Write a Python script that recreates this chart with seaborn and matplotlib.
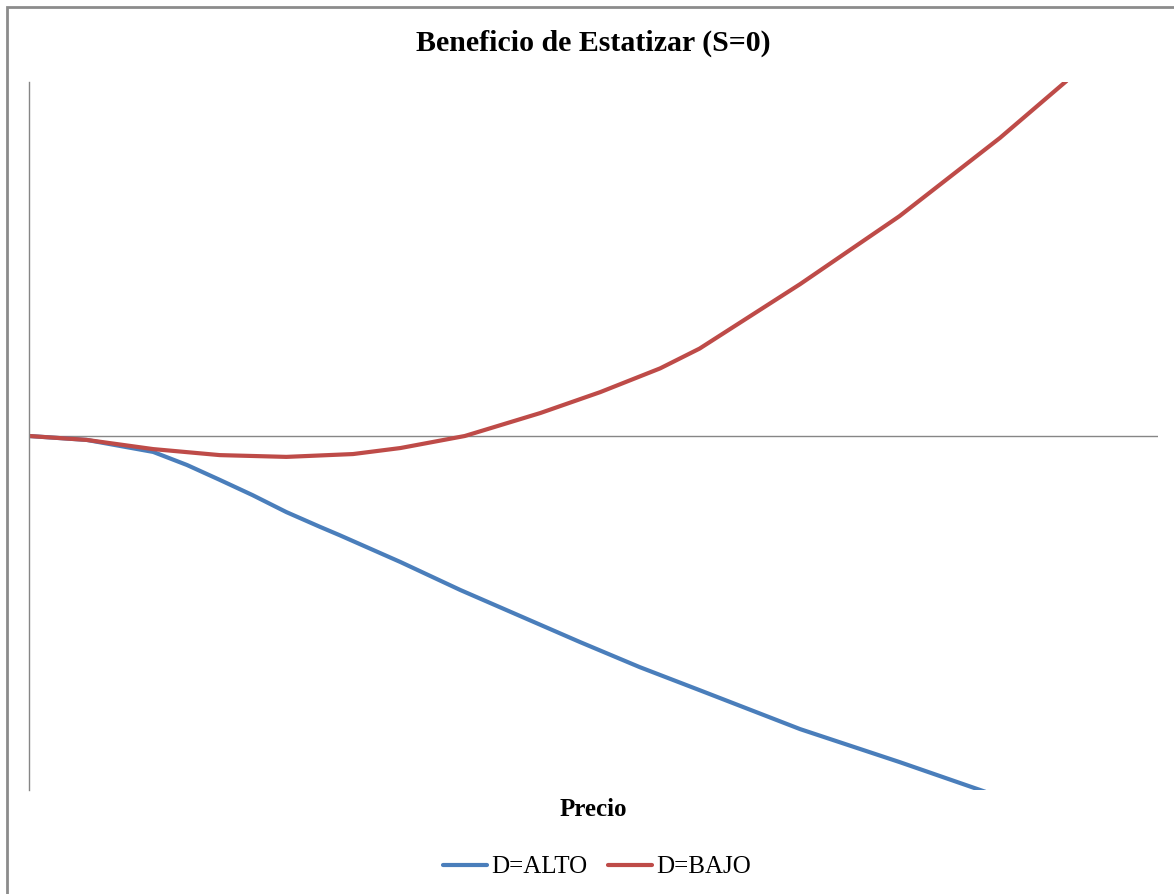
import numpy as np
import pandas as pd
import matplotlib
matplotlib.use("Agg")
import matplotlib.pyplot as plt
import seaborn as sns
from matplotlib.patches import Rectangle

# valores (unidades arbitrarias)
precio_alto = [0, 5.1, 11.0, 14.0, 16.9, 19.8, 22.8, 25.8, 27.5, 32.9, 38.2, 48.8,
               54.1, 59.4, 68.3, 77.1, 84.7]
benef_alto = [0, -1.1, -4.5, -8.2, -12.4, -16.7, -21.5, -25.7, -28.0, -35.6, -43.5, -58.2,
              -65.3, -71.8, -82.8, -92.1, -100.5]

precio_bajo = [0, 5.1, 11.0, 16.9, 22.8, 28.7, 32.9, 38.6, 45.3, 50.6, 55.9, 59.4,
               68.3, 77.1, 86.0, 91.9]
benef_bajo = [0, -1.1, -3.7, -5.4, -5.9, -5.1, -3.4, 0, 6.5, 12.4, 19.1, 24.7,
              42.9, 62.1, 84.2, 100.3]

series = ["D=ALTO", "D=BAJO"]
colores = ["#4A7EBB", "#BE4B48"]

df = pd.concat([
    pd.DataFrame({"Precio": precio_alto, "Beneficio": benef_alto, "serie": series[0]}),
    pd.DataFrame({"Precio": precio_bajo, "Beneficio": benef_bajo, "serie": series[1]}),
])

sns.set_style("white")
plt.rcParams["font.family"] = ["Liberation Serif", "DejaVu Serif"]
plt.rcParams["text.color"] = "black"

fig = plt.figure(figsize=(11.74, 8.94), dpi=100)
ax = fig.add_axes([29 / 1174, 104 / 894, 1129 / 1174, 708 / 894])

sns.lineplot(data=df, x="Precio", y="Beneficio", hue="serie", hue_order=series,
             palette=colores, linewidth=3, sort=False, estimator=None, ax=ax)

ax.set_xlim(0, 100)
ax.set_ylim(-100, 100)
ax.axhline(0, color="#868686", linewidth=1, zorder=1)
for s in ["top", "right", "bottom"]:
    ax.spines[s].set_visible(False)
ax.spines["left"].set_color("#868686")
ax.spines["left"].set_linewidth(1)
ax.set_xticks([])
ax.set_yticks([])
ax.set_ylabel("")
ax.set_xlabel("")

fig.text(593 / 1174, 1 - 43 / 894, "Beneficio de Estatizar (S=0)", ha="center", va="center",
         fontsize=21.5, fontweight="bold", color="black")
fig.text(593 / 1174, 1 - 809 / 894, "Precio", ha="center", va="center",
         fontsize=18, fontweight="bold", color="black")

leg = ax.legend(loc="center", bbox_to_anchor=(597 / 1174, 1 - 867 / 894),
                bbox_transform=fig.transFigure, ncol=2, frameon=False, fontsize=18,
                handlelength=1.76, handletextpad=0.16, columnspacing=0.84)
for t in leg.get_texts():
    t.set_color("black")

fig.patches.append(Rectangle((7 / 1174, -0.05), 1.2, 1 - 7 / 894 + 0.05,
                             transform=fig.transFigure, fill=False,
                             edgecolor="#8C8C8C", linewidth=2))

fig.savefig("out.png", dpi=100)
